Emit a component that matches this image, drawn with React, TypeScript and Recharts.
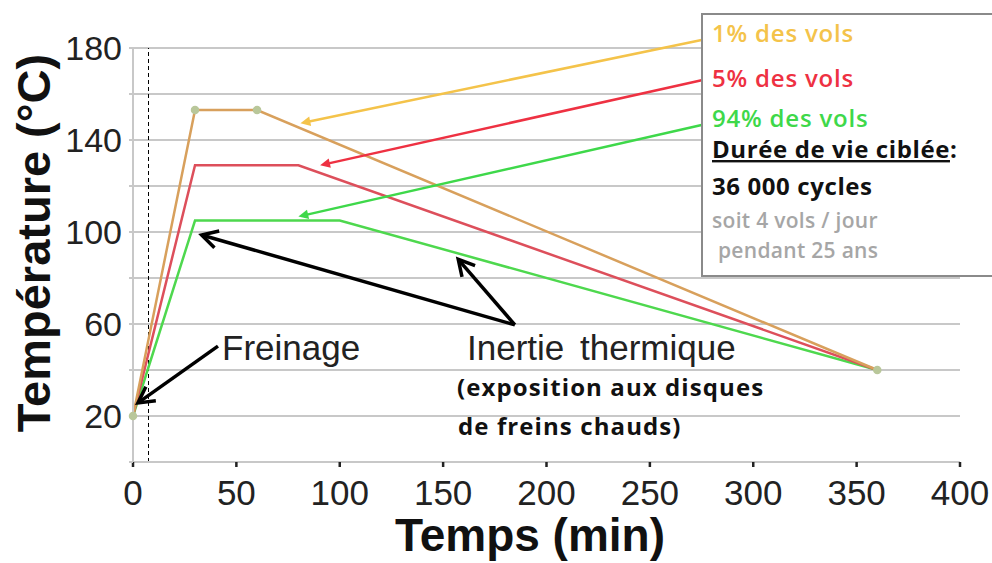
import React from 'react';
import { LineChart, Line, XAxis, YAxis, CartesianGrid, ReferenceLine } from 'recharts';

// temperature profiles per flight share
const times1 = [0, 30, 60, 360];
const temps1 = [20, 153, 153, 40];
const times5 = [0, 30, 80, 360];
const temps5 = [20, 129, 129, 40];
const times94 = [0, 30, 100, 360];
const temps94 = [20, 105, 105, 40];

const xTicks = [0, 50, 100, 150, 200, 250, 300, 350, 400];
const yTicks = [0, 20, 40, 60, 80, 100, 120, 140, 160, 180];
const yLabels = [20, 60, 100, 140, 180];

// annotation arrows, in data units
const boxArrows = [
  { from: [275, 183.5], to: [81, 147.3], color: '#F4C34A' },
  { from: [275, 166], to: [90.5, 129], color: '#EE3142' },
  { from: [275, 146.5], to: [80, 106.7], color: '#3ED84A' },
];
const blackArrows = [
  { from: [184.7, 59.6], to: [33.2, 98.7] },
  { from: [184.7, 59.6], to: [157.3, 88.1] },
  { from: [41.1, 50.4], to: [2.4, 25.7] },
];
const markerTime = 7.5;

const toPoints = (xs: number[], ys: number[]) => xs.map((t, i) => ({ t, v: ys[i] }));
const serie1 = toPoints(times1, temps1);
const serie5 = toPoints(times5, temps5);
const serie94 = toPoints(times94, temps94);

const ARIAL = '"Liberation Sans", Arial, sans-serif';
const SANS = '"Open Sans", sans-serif';

const Arrow = (props: any) => {
  const { x1, y1, x2, y2, stroke, strokeWidth, open } = props;
  const a = Math.atan2(y2 - y1, x2 - x1);
  const head = open ? 18 : 11;
  const spread = open ? 0.5 : 0.45;
  const hx1 = x2 - head * Math.cos(a - spread);
  const hy1 = y2 - head * Math.sin(a - spread);
  const hx2 = x2 - head * Math.cos(a + spread);
  const hy2 = y2 - head * Math.sin(a + spread);
  if (open) {
    return (
      <g>
        <line x1={x1} y1={y1} x2={x2} y2={y2} stroke={stroke} strokeWidth={strokeWidth} />
        <polyline points={`${hx1},${hy1} ${x2},${y2} ${hx2},${hy2}`} fill="none" stroke={stroke} strokeWidth={strokeWidth} />
      </g>
    );
  }
  const bx = x2 - head * 0.8 * Math.cos(a);
  const by = y2 - head * 0.8 * Math.sin(a);
  return (
    <g>
      <line x1={x1} y1={y1} x2={bx} y2={by} stroke={stroke} strokeWidth={strokeWidth} />
      <polygon points={`${x2},${y2} ${hx1},${hy1} ${hx2},${hy2}`} fill={stroke} />
    </g>
  );
};

const App: React.FC = () => {
  return (
    <div style={{ position: 'absolute', left: 0, top: 0, width: 992, height: 563, background: '#fff' }}>
      <LineChart width={992} height={563} margin={{ top: 48, right: 32, bottom: 0, left: 0 }}>
        <CartesianGrid vertical={false} stroke="#c8c8c8" strokeWidth={2} />
        <XAxis
          type="number"
          dataKey="t"
          domain={[0, 400]}
          ticks={xTicks}
          height={101}
          axisLine={{ stroke: '#c8c8c8', strokeWidth: 2 }}
          tickLine={{ stroke: '#222', strokeWidth: 2.5 }}
          tickSize={5}
          tickMargin={13}
          tick={{ fontSize: 35, fill: '#222', fontFamily: ARIAL }}
        />
        <YAxis
          type="number"
          domain={[0, 180]}
          ticks={yTicks}
          width={133}
          axisLine={{ stroke: '#c8c8c8', strokeWidth: 2 }}
          tickLine={{ stroke: '#c8c8c8', strokeWidth: 2 }}
          tickSize={4}
          tickMargin={7}
          tickFormatter={(v: number) => (yLabels.includes(v) ? String(v) : '')}
          tick={{ fontSize: 34, fill: '#222', fontFamily: ARIAL }}
        />
        <ReferenceLine x={markerTime} stroke="#000" strokeWidth={1} strokeDasharray="4 3" />
        <Line data={serie94} dataKey="v" stroke="#4ED84E" strokeWidth={2.5} dot={false} isAnimationActive={false} />
        <Line data={serie5} dataKey="v" stroke="#DD4F5B" strokeWidth={2.5} dot={false} isAnimationActive={false} />
        <Line
          data={serie1}
          dataKey="v"
          stroke="#D8A05C"
          strokeWidth={2.5}
          dot={{ r: 3, fill: '#B9C79A', stroke: '#B9C79A' }}
          isAnimationActive={false}
        />
        {boxArrows.map((a, i) => (
          <ReferenceLine
            key={`c-${i}`}
            segment={[{ x: a.from[0], y: a.from[1] }, { x: a.to[0], y: a.to[1] }]}
            ifOverflow="visible"
            stroke={a.color}
            strokeWidth={2.5}
            shape={(p: any) => <Arrow {...p} open={false} />}
          />
        ))}
        {blackArrows.map((a, i) => (
          <ReferenceLine
            key={`b-${i}`}
            segment={[{ x: a.from[0], y: a.from[1] }, { x: a.to[0], y: a.to[1] }]}
            ifOverflow="visible"
            stroke="#000"
            strokeWidth={3.5}
            shape={(p: any) => <Arrow {...p} open={true} />}
          />
        ))}
      </LineChart>

      <svg width={992} height={563} style={{ position: 'absolute', left: 0, top: 0, pointerEvents: 'none' }}>
        <text
          transform="translate(50,243) rotate(-90)"
          textAnchor="middle"
          fontFamily={ARIAL}
          fontWeight="bold"
          fontSize={47}
          fill="#111"
        >
          Température (°C)
        </text>
        <text x={530} y={551} textAnchor="middle" fontFamily={ARIAL} fontWeight="bold" fontSize={46} fill="#111">
          Temps (min)
        </text>

        <text x={222} y={360} fontFamily={ARIAL} fontSize={35} fill="#222">Freinage</text>
        <text x={467} y={360} fontFamily={ARIAL} fontSize={35} fill="#222" wordSpacing={6}>Inertie thermique</text>
        <text x={457} y={396} fontFamily={SANS} fontWeight={700} fontSize={24} letterSpacing={1.1} fill="#111">(exposition aux disques</text>
        <text x={458} y={435} fontFamily={SANS} fontWeight={700} fontSize={24} letterSpacing={1.1} fill="#111">de freins chauds)</text>

        <rect x={702} y={14} width={300} height={262} fill="#fff" stroke="#8a8a8a" strokeWidth={2} />
        <text x={712} y={42} fontFamily={SANS} fontWeight={600} fontSize={24} letterSpacing={0.8} fill="#F4C34A">1% des vols</text>
        <text x={712} y={87} fontFamily={SANS} fontWeight={600} fontSize={24} letterSpacing={0.8} fill="#EE3142">5% des vols</text>
        <text x={712} y={127} fontFamily={SANS} fontWeight={600} fontSize={24} letterSpacing={0.8} fill="#3ED84A">94% des vols</text>
        <text x={712} y={158} fontFamily={SANS} fontWeight={700} fontSize={24} letterSpacing={0.6} fill="#111">
          <tspan style={{ textDecoration: 'underline' }}>Durée de vie ciblée</tspan>:
        </text>
        <text x={712} y={195} fontFamily={SANS} fontWeight={700} fontSize={24} letterSpacing={0.6} fill="#111">36 000 cycles</text>
        <text x={712} y={228} fontFamily={SANS} fontWeight={600} fontSize={21} letterSpacing={0.3} fill="#A6A6A6">soit 4 vols / jour</text>
        <text x={718} y={258} fontFamily={SANS} fontWeight={600} fontSize={21} letterSpacing={0.3} fill="#A6A6A6">pendant 25 ans</text>
      </svg>
    </div>
  );
};

export default App;
